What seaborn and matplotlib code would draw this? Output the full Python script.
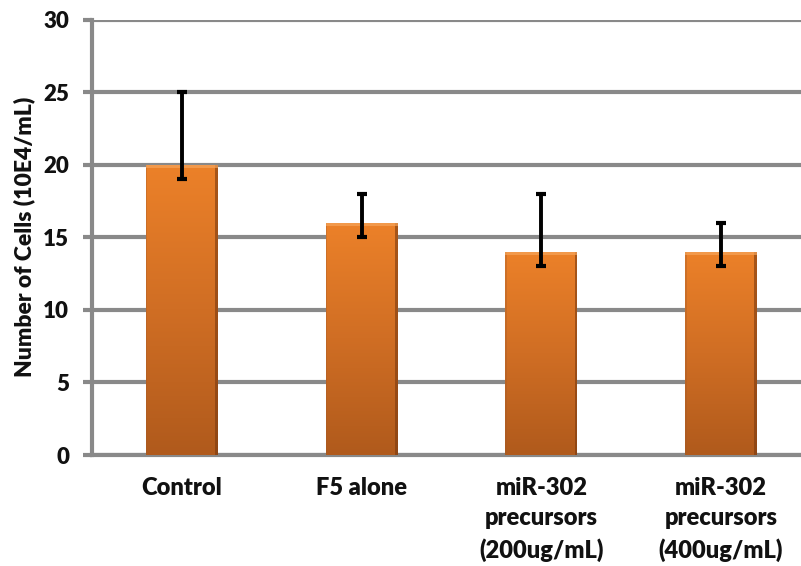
import matplotlib
matplotlib.use("Agg")
import matplotlib.pyplot as plt
import seaborn as sns
import numpy as np
import pandas as pd
from matplotlib.colors import LinearSegmentedColormap

categories = ["Control", "F5 alone", "miR-302\nprecursors\n(200ug/mL)", "miR-302\nprecursors\n(400ug/mL)"]
values = [20, 16, 14, 14]
err_low = [19, 15, 13, 13]
err_high = [25, 18, 18, 16]
yticks = [0, 5, 10, 15, 20, 25, 30]

sns.set_theme(style="white")
plt.rcParams['font.family'] = ['Lato', 'DejaVu Sans']

df = pd.DataFrame({"cat": categories, "val": values})

fig = plt.figure(figsize=(8.01, 5.66), dpi=100)
ax = fig.add_axes([92/801, 1 - 455/566, 1 - 92/801, (455 - 19.5)/566])

sns.barplot(data=df, x="cat", y="val", color="#E47D2A", width=0.4, ax=ax,
            edgecolor="none", linewidth=0, zorder=3)

grey = "#898989"
ax.set_ylim(0, 30)
ax.set_yticks(yticks)
ax.set_xlim(-0.5, 3.445)
ax.yaxis.grid(True, color=grey, linewidth=3, zorder=0)
ax.set_axisbelow(True)
for s in ["top", "right"]:
    ax.spines[s].set_visible(False)
for s in ["left", "bottom"]:
    ax.spines[s].set_color(grey)
    ax.spines[s].set_linewidth(3)
    ax.spines[s].set_zorder(1)

ax.tick_params(axis="y", length=6.5, width=3, color=grey, pad=10, labelsize=16,
               left=True, labelcolor="#111111")
ax.tick_params(axis="x", length=0, pad=16, labelsize=17, labelcolor="#111111")
for lbl in ax.get_yticklabels():
    lbl.set_fontweight("heavy")
for lbl in ax.get_xticklabels():
    lbl.set_fontweight("heavy")
    lbl.set_linespacing(1.45)
    lbl.set_verticalalignment("top")

ax.set_xlabel("")
ax.set_ylabel("Number of Cells (10E4/mL)", fontsize=16.5, fontweight="heavy",
              labelpad=6, color="#111111")

# gradient fill for bars
cmap = LinearSegmentedColormap.from_list("g", ["#B05A1C", "#D06E24", "#EC8129"])
grad = np.linspace(0, 1, 256).reshape(-1, 1)
for p in ax.patches:
    x0, y0 = p.get_x(), p.get_y()
    w, h = p.get_width(), p.get_height()
    im = ax.imshow(grad, extent=[x0, x0 + w, y0, y0 + h], origin="lower",
                   cmap=cmap, aspect="auto", zorder=3.5)
    im.set_clip_path(p)
    ax.add_patch(plt.Rectangle((x0 + w * 0.965, y0), w * 0.035, h, color="#7A3A10",
                               alpha=0.6, zorder=3.6, lw=0))
    ax.add_patch(plt.Rectangle((x0, y0), w * 0.02, h, color="#A05A2A",
                               alpha=0.35, zorder=3.6, lw=0))
    ax.add_patch(plt.Rectangle((x0, y0 + h - 0.2), w, 0.2, color="#F5A45A",
                               alpha=0.7, zorder=3.6, lw=0))

xs = np.arange(len(categories))
lo = np.array(values) - np.array(err_low)
hi = np.array(err_high) - np.array(values)
ax.errorbar(xs, values, yerr=[lo, hi], fmt="none", ecolor="black",
            elinewidth=2.8, capsize=3.5, capthick=3, zorder=5)

ax.set_xlim(-0.5, 3.445)
ax.set_ylim(0, 30)
fig.savefig("out.png", dpi=100)
